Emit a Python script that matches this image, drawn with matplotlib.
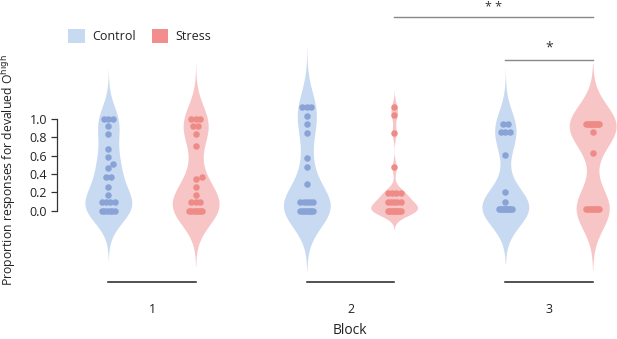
import numpy as np
import matplotlib
matplotlib.use("Agg")
import matplotlib.pyplot as plt
from matplotlib.patches import Patch

plt.rcParams['font.family'] = ['Open Sans', 'DejaVu Sans']

# ---------------- data ----------------
blocks = ["1", "2", "3"]
groups = ["Control", "Stress"]
control_b1 = [1.0, 1.0, 1.0, 0.92, 0.84, 0.67, 0.59, 0.51, 0.46, 0.37, 0.37, 0.26, 0.17,
              0.09, 0.09, 0.09, 0.09, 0.0, 0.0, 0.0, 0.0, 0.0, 0.0]
stress_b1 = [1.0, 1.0, 1.0, 0.92, 0.92, 0.84, 0.71, 0.37, 0.34, 0.26, 0.17,
             0.09, 0.09, 0.09, 0.0, 0.0, 0.0, 0.0, 0.0, 0.0, 0.0]
control_b2 = [1.13, 1.13, 1.13, 1.03, 0.95, 0.85, 0.57, 0.47, 0.29,
              0.09, 0.09, 0.09, 0.09, 0.09, 0.0, 0.0, 0.0, 0.0, 0.0, 0.0, 0.0, 0.0]
stress_b2 = [1.13, 1.04, 0.85, 0.47, 0.19, 0.19, 0.19, 0.19, 0.09, 0.09, 0.09, 0.09, 0.09,
             0.0, 0.0, 0.0, 0.0, 0.0, 0.0, 0.0, 0.0, 0.0]
control_b3 = [0.94, 0.94, 0.86, 0.86, 0.86, 0.61, 0.2, 0.09,
              0.02, 0.02, 0.02, 0.02, 0.02, 0.02, 0.02, 0.02, 0.02, 0.02]
stress_b3 = [0.94, 0.94, 0.94, 0.94, 0.94, 0.94, 0.94, 0.94, 0.94, 0.94, 0.86, 0.63,
             0.02, 0.02, 0.02, 0.02, 0.02, 0.02, 0.02, 0.02]
yticks = [0.0, 0.2, 0.4, 0.6, 0.8, 1.0]
sig_labels = ["* *", "*"]

data = {"Control": [control_b1, control_b2, control_b3],
        "Stress": [stress_b1, stress_b2, stress_b3]}

# ---------------- style ----------------
violin_col = {"Control": "#C8DAF1", "Stress": "#F8C5C6"}
dot_col = {"Control": "#89A3D7", "Stress": "#EF8B86"}
legend_col = {"Control": "#C8DAF1", "Stress": "#F28E8E"}
offset = {"Control": -0.22, "Stress": 0.22}
half_width = 0.118
cut = 3.0

W, H = 617, 339
fig = plt.figure(figsize=(W / 100, H / 100), dpi=100)
ax = fig.add_axes([57 / W, 1 - 282 / H, (617 - 57) / W, 282 / H])
px_per_x = 198.5
px_per_y = 91.5
x0_px = 152.0
y0_px = 210.5
ax.set_xlim((57 - x0_px) / px_per_x, (617 - x0_px) / px_per_x)
ax.set_ylim((y0_px - 282) / px_per_y, y0_px / px_per_y)


def bw_nrd0(v):
    v = np.asarray(v, float)
    sd = v.std(ddof=1)
    iqr = np.subtract(*np.percentile(v, [75, 25]))
    lo = min(sd, iqr / 1.34) if iqr > 0 else sd
    return 0.9 * lo * len(v) ** (-0.2)


def kde(v, grid, bw):
    d = np.exp(-0.5 * ((grid[:, None] - v[None, :]) / bw) ** 2).sum(1)
    return d / d.max()


def dots_layout(vals, center, diam_px=6.2, max_span_px=13.0, row_step_px=4.6):
    vals = np.asarray(vals, float)
    xs = np.zeros(len(vals))
    placed = []
    for val in np.unique(vals):
        idx = np.where(vals == val)[0]
        k = len(idx)
        span = min((k - 1) * row_step_px, max_span_px)
        rel = np.linspace(-span / 2, span / 2, k) if k > 1 else np.array([0.0])
        shift = 0.0
        s = 0
        while True:
            cands = [0.0] if s == 0 else [s * 1.5, -s * 1.5]
            found = None
            for c in cands:
                ok = True
                for (px, py) in placed:
                    dy = (val - py) * px_per_y
                    for r in rel:
                        dx = (r + c) - px
                        if dx * dx + dy * dy < (0.92 * diam_px) ** 2:
                            ok = False
                            break
                    if not ok:
                        break
                if ok:
                    found = c
                    break
            if found is not None:
                shift = found
                break
            s += 1
        for j, r in zip(idx, rel):
            xs[j] = center + (r + shift) / px_per_x
        for r in rel:
            placed.append((r + shift, val))
    return xs


for g in groups:
    for i, vals in enumerate(data[g]):
        c = i + offset[g]
        v = np.asarray(vals, float)
        bw = bw_nrd0(v)
        grid = np.linspace(v.min() - cut * bw, v.max() + cut * bw, 600)
        dens = kde(v, grid, bw)
        ax.fill_betweenx(grid, c - dens * half_width, c + dens * half_width,
                         color=violin_col[g], lw=0, zorder=1)
        xs = dots_layout(v, c)
        ax.scatter(xs, v, s=22, color=dot_col[g], lw=0, zorder=3)

# axes styling
for s in ["top", "right", "bottom"]:
    ax.spines[s].set_visible(False)
ax.spines["left"].set_bounds(0, 1)
ax.spines["left"].set_color("#333333")
ax.spines["left"].set_linewidth(0.9)
ax.set_yticks(yticks)
ax.set_yticklabels([f"{t:.1f}" for t in yticks])
ax.tick_params(axis="y", length=4, width=0.9, color="#333333", labelsize=9, pad=3,
               labelcolor="#222222")
ax.set_xticks(range(len(blocks)))
ax.set_xticklabels(blocks)
ax.tick_params(axis="x", length=0, pad=15, labelsize=9, labelcolor="#222222")
ax.patch.set_visible(False)

ybot = ax.get_ylim()[0]
for i in range(len(blocks)):
    ax.plot([i + offset["Control"], i + offset["Stress"]], [ybot, ybot],
            color="#222222", lw=1.1, clip_on=False, zorder=2)

# significance bars
y_sig1 = (y0_px - 16.7) / px_per_y
y_sig2 = (y0_px - 60) / px_per_y
ax.plot([1 + offset["Stress"], 2 + offset["Stress"]], [y_sig1, y_sig1],
        color="#888888", lw=1.0, clip_on=False)
ax.text(1.72, y_sig1 + 0.03, sig_labels[0], ha="center", va="bottom", fontsize=9,
        color="#333333")
ax.plot([2 + offset["Control"], 2 + offset["Stress"]], [y_sig2, y_sig2],
        color="#888888", lw=1.0, clip_on=False)
ax.text(2.0, y_sig2 + 0.05, sig_labels[1], ha="center", va="bottom", fontsize=10,
        color="#333333")

# labels
fig.text(350 / W, 1 - 330 / H, "Block", ha="center", va="center", fontsize=10,
         color="#222222")
fig.text(9 / W, 1 - 170 / H, "Proportion responses for devalued O$^{\\mathrm{high}}$",
         rotation=90, ha="center", va="center", fontsize=8.8, color="#222222")

# legend
handles = [Patch(facecolor=legend_col[g], edgecolor="none", label=g) for g in groups]
fig.legend(handles=handles, loc="center left", bbox_to_anchor=(57 / W, 1 - 36 / H),
           ncol=2, frameon=False, fontsize=9, handlelength=1.3, handleheight=1.3,
           columnspacing=1.3, handletextpad=0.6, labelcolor="#222222")

fig.savefig("out.png", dpi=100)
